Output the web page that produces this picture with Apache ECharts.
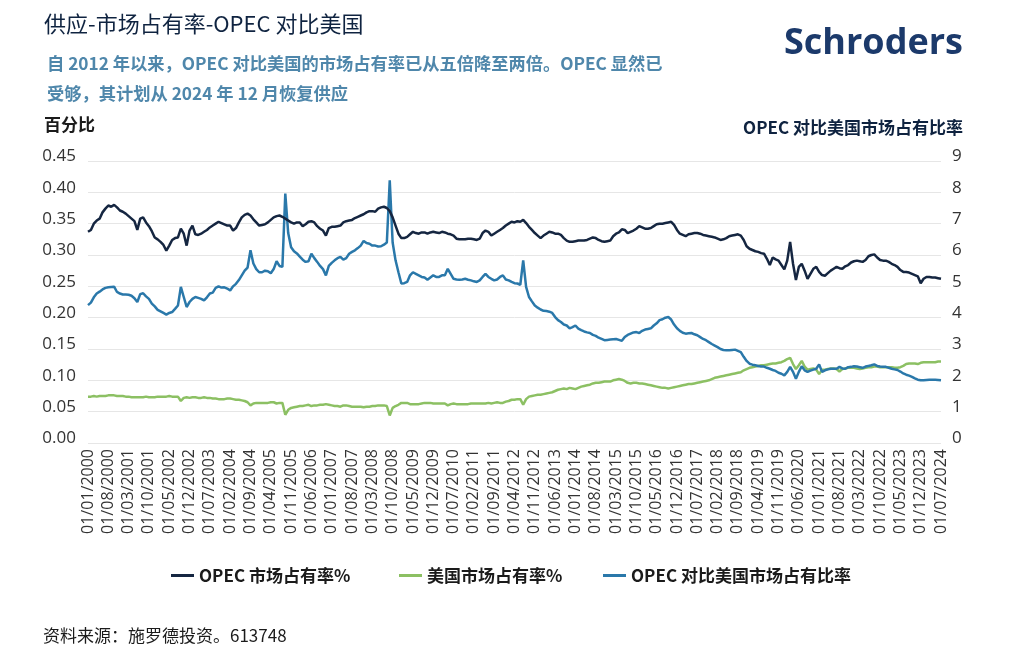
<!DOCTYPE html>
<html><head><meta charset="utf-8">
<script src="https://cdn.jsdelivr.net/npm/echarts@6/dist/echarts.min.js"></script>
<style>html,body{margin:0;padding:0;background:#fff}#c{width:1009px;height:659px}</style>
</head><body><div id="c"></div>
<script>
// Monthly data, 01/2000 .. 07/2024
const opecShare = [
0.337,0.340,0.350,0.355,0.358,0.368,0.374,0.379,0.377,0.380,0.376,0.371,
0.369,0.366,0.362,0.358,0.354,0.340,0.358,0.360,0.352,0.346,0.338,0.328,
0.325,0.321,0.316,0.307,0.315,0.324,0.327,0.328,0.342,0.334,0.315,0.339,
0.347,0.333,0.332,0.334,0.337,0.340,0.344,0.347,0.350,0.353,0.351,0.349,
0.347,0.347,0.339,0.343,0.352,0.360,0.364,0.366,0.363,0.357,0.352,0.347,
0.348,0.349,0.352,0.356,0.360,0.362,0.363,0.361,0.358,0.355,0.352,0.350,
0.352,0.352,0.346,0.349,0.353,0.354,0.352,0.346,0.342,0.339,0.331,0.343,
0.345,0.345,0.346,0.347,0.352,0.354,0.355,0.356,0.359,0.361,0.363,0.365,
0.368,0.370,0.370,0.369,0.374,0.376,0.377,0.375,0.370,0.360,0.347,0.334,
0.327,0.327,0.329,0.333,0.337,0.335,0.334,0.336,0.336,0.334,0.336,0.337,
0.336,0.335,0.337,0.336,0.334,0.333,0.331,0.326,0.325,0.325,0.325,0.326,
0.326,0.325,0.324,0.326,0.335,0.339,0.337,0.331,0.334,0.337,0.340,0.343,
0.347,0.350,0.353,0.352,0.354,0.353,0.356,0.351,0.345,0.340,0.335,0.331,
0.327,0.331,0.334,0.337,0.336,0.334,0.334,0.332,0.327,0.323,0.321,0.321,
0.322,0.323,0.323,0.323,0.324,0.326,0.328,0.327,0.324,0.322,0.321,0.322,
0.323,0.330,0.334,0.336,0.341,0.340,0.335,0.337,0.339,0.342,0.346,0.344,
0.342,0.342,0.343,0.346,0.349,0.350,0.350,0.351,0.352,0.353,0.348,0.340,
0.334,0.332,0.330,0.333,0.334,0.335,0.335,0.334,0.332,0.331,0.330,0.329,
0.328,0.326,0.324,0.325,0.327,0.330,0.331,0.332,0.333,0.331,0.324,0.314,
0.310,0.308,0.306,0.305,0.303,0.302,0.294,0.284,0.296,0.293,0.291,0.284,
0.277,0.291,0.321,0.286,0.260,0.281,0.286,0.275,0.262,0.270,0.278,0.281,
0.273,0.268,0.267,0.271,0.275,0.278,0.281,0.279,0.278,0.282,0.284,0.288,
0.290,0.291,0.290,0.289,0.292,0.298,0.300,0.301,0.296,0.292,0.291,0.291,
0.289,0.286,0.284,0.281,0.276,0.273,0.273,0.272,0.270,0.268,0.266,0.255,
0.262,0.265,0.265,0.264,0.264,0.263,0.262
];
const usShare = [
0.074,0.074,0.075,0.074,0.075,0.075,0.075,0.076,0.076,0.076,0.075,0.075,
0.075,0.074,0.074,0.073,0.073,0.073,0.073,0.073,0.074,0.073,0.073,0.073,
0.074,0.074,0.074,0.074,0.075,0.074,0.074,0.074,0.067,0.072,0.073,0.072,
0.073,0.073,0.072,0.072,0.073,0.072,0.072,0.071,0.071,0.070,0.070,0.070,
0.071,0.071,0.070,0.069,0.069,0.068,0.067,0.065,0.060,0.063,0.064,0.064,
0.064,0.064,0.064,0.065,0.065,0.063,0.064,0.064,0.045,0.053,0.056,0.057,
0.058,0.059,0.059,0.060,0.061,0.059,0.060,0.060,0.061,0.061,0.062,0.061,
0.060,0.059,0.059,0.058,0.060,0.060,0.059,0.058,0.058,0.058,0.058,0.057,
0.058,0.058,0.059,0.059,0.060,0.060,0.060,0.059,0.044,0.056,0.059,0.061,
0.064,0.064,0.064,0.062,0.062,0.062,0.062,0.063,0.064,0.064,0.064,0.063,
0.063,0.063,0.063,0.063,0.060,0.062,0.063,0.062,0.062,0.062,0.062,0.062,
0.063,0.063,0.063,0.063,0.063,0.063,0.064,0.063,0.064,0.065,0.064,0.064,
0.066,0.067,0.069,0.069,0.070,0.070,0.061,0.070,0.074,0.075,0.076,0.077,
0.077,0.078,0.079,0.080,0.081,0.083,0.085,0.086,0.087,0.086,0.088,0.087,
0.086,0.088,0.090,0.091,0.092,0.093,0.095,0.096,0.096,0.097,0.098,0.098,
0.098,0.100,0.101,0.102,0.101,0.099,0.096,0.095,0.096,0.096,0.095,0.095,
0.094,0.093,0.092,0.091,0.090,0.089,0.088,0.088,0.087,0.088,0.089,0.090,
0.091,0.092,0.093,0.094,0.094,0.095,0.096,0.097,0.098,0.099,0.100,0.102,
0.104,0.105,0.106,0.107,0.108,0.109,0.110,0.111,0.112,0.113,0.116,0.118,
0.120,0.121,0.122,0.123,0.124,0.124,0.125,0.126,0.127,0.127,0.128,0.129,
0.131,0.134,0.136,0.126,0.118,0.124,0.131,0.122,0.117,0.118,0.119,0.117,
0.110,0.117,0.117,0.118,0.119,0.119,0.118,0.114,0.118,0.119,0.120,0.120,
0.120,0.119,0.118,0.119,0.120,0.121,0.121,0.122,0.122,0.121,0.121,0.121,
0.121,0.121,0.120,0.120,0.121,0.123,0.126,0.127,0.127,0.127,0.126,0.128,
0.129,0.129,0.129,0.129,0.129,0.130,0.130
];
const opecVsUsRatio = [
4.40,4.48,4.65,4.77,4.83,4.90,4.95,4.97,4.98,4.99,4.82,4.77,
4.74,4.74,4.73,4.70,4.62,4.50,4.75,4.78,4.68,4.60,4.45,4.36,
4.25,4.20,4.15,4.10,4.15,4.18,4.28,4.39,4.98,4.66,4.34,4.50,
4.60,4.66,4.63,4.60,4.55,4.65,4.77,4.80,4.95,5.00,4.96,4.97,
4.93,4.87,5.00,5.08,5.20,5.35,5.50,5.60,6.15,5.73,5.55,5.45,
5.45,5.50,5.48,5.42,5.55,5.80,5.65,5.62,7.96,6.70,6.25,6.12,
6.05,5.95,5.85,5.78,5.80,6.04,5.90,5.78,5.65,5.55,5.35,5.65,
5.75,5.83,5.90,5.94,5.85,5.90,6.04,6.10,6.15,6.22,6.30,6.45,
6.38,6.36,6.30,6.30,6.27,6.28,6.33,6.40,8.38,6.40,5.83,5.45,
5.09,5.10,5.14,5.35,5.45,5.40,5.35,5.30,5.28,5.21,5.28,5.35,
5.30,5.30,5.35,5.35,5.56,5.40,5.24,5.22,5.21,5.22,5.24,5.21,
5.19,5.16,5.14,5.19,5.30,5.40,5.30,5.24,5.19,5.22,5.30,5.35,
5.22,5.19,5.14,5.10,5.09,5.05,5.83,4.98,4.66,4.52,4.39,4.32,
4.26,4.22,4.21,4.19,4.15,4.02,3.92,3.86,3.78,3.75,3.66,3.70,
3.75,3.65,3.60,3.56,3.53,3.51,3.45,3.42,3.36,3.32,3.28,3.29,
3.30,3.31,3.32,3.29,3.26,3.38,3.45,3.49,3.53,3.54,3.51,3.58,
3.62,3.64,3.66,3.75,3.82,3.92,3.95,4.00,4.02,3.94,3.78,3.66,
3.58,3.52,3.49,3.50,3.51,3.47,3.44,3.38,3.32,3.28,3.22,3.16,
3.11,3.06,3.00,2.97,2.96,2.96,2.97,2.98,2.94,2.90,2.75,2.62,
2.53,2.50,2.48,2.46,2.44,2.44,2.40,2.37,2.33,2.30,2.24,2.21,
2.16,2.27,2.43,2.27,2.05,2.27,2.45,2.32,2.27,2.31,2.34,2.37,
2.51,2.27,2.32,2.35,2.37,2.37,2.37,2.43,2.38,2.37,2.42,2.43,
2.45,2.44,2.42,2.40,2.44,2.46,2.48,2.51,2.46,2.44,2.43,2.43,
2.40,2.37,2.35,2.33,2.28,2.22,2.18,2.15,2.11,2.06,2.02,2.00,
2.00,2.01,2.02,2.02,2.02,2.01,2.00
];
// Category labels: first day of each month, 01/2000 .. 07/2024
const months = [];
for (let y = 2000; y <= 2024; y++) {
  for (let m = 1; m <= 12; m++) {
    if (y === 2024 && m > 7) break;
    months.push('01/' + String(m).padStart(2,'0') + '/' + y);
  }
}
const seriesNames = ['OPEC 市场占有率%', '美国市场占有率%', 'OPEC 对比美国市场占有比率'];
const colors = ['#152641', '#8cc063', '#2a78aa'];
const CJK = '"Noto Sans CJK SC", "Noto Sans", sans-serif';
const LAT = '"Open Sans", "Noto Sans", sans-serif';

const chart = echarts.init(document.getElementById('c'), null, {renderer: 'canvas'});
const legendBase = {
  top: 567, padding: 0, icon: 'rect', itemWidth: 23, itemHeight: 3, itemGap: 8,
  textStyle: {fontFamily: CJK, fontSize: 17, fontWeight: 'bold', color: '#1b1b1b'}
};
chart.setOption({
  backgroundColor: '#fff',
  animation: false,
  color: colors,
  title: [
    {text: '供应-市场占有率-OPEC 对比美国', left: 44, top: 13, padding: 0,
     textStyle: {fontFamily: CJK, fontSize: 22, fontWeight: 'normal', color: '#0f2340'}},
    {text: '自 2012 年以来，OPEC 对比美国的市场占有率已从五倍降至两倍。OPEC 显然已\n受够，其计划从 2024 年 12 月恢复供应', left: 47, top: 48, padding: 0,
     textStyle: {fontFamily: CJK, fontSize: 17.25, fontWeight: 'bold', color: '#4f87ab', lineHeight: 30}}
  ],
  graphic: [
    {type: 'text', left: 784, top: 26, style: {text: 'Schroders', fontFamily: LAT, fontSize: 36, fontWeight: 'bold', fill: '#1c3a6b'}},
    {type: 'text', left: 44, top: 116, style: {text: '百分比', fontFamily: CJK, fontSize: 17, fontWeight: 'bold', fill: '#1b1b1b'}},
    {type: 'text', right: 46, top: 119, style: {text: 'OPEC 对比美国市场占有比率', fontFamily: CJK, fontSize: 17, fontWeight: 'bold', fill: '#0f2340'}},
    {type: 'text', left: 43, top: 627, style: {text: '资料来源：施罗德投资。613748', fontFamily: CJK, fontSize: 17, fill: '#1b1b1b'}}
  ],
  legend: [
    Object.assign({}, legendBase, {left: 171, data: [seriesNames[0]]}),
    Object.assign({}, legendBase, {left: 399, data: [seriesNames[1]]}),
    Object.assign({}, legendBase, {left: 603, data: [seriesNames[2]]})
  ],
  grid: {left: 88, right: 68, top: 161, bottom: 216, containLabel: false},
  xAxis: {
    type: 'category', data: months, boundaryGap: false,
    axisLine: {show: false}, axisTick: {show: false},
    axisLabel: {interval: 6, rotate: 90, fontSize: 16, color: '#333', margin: 6, fontFamily: LAT},
    splitLine: {show: false}
  },
  yAxis: [
    {type: 'value', min: 0, max: 0.45, interval: 0.05,
     axisLine: {show: false}, axisTick: {show: false},
     axisLabel: {formatter: v => v.toFixed(2), fontSize: 17, color: '#333', margin: 12, fontFamily: LAT, verticalAlign: 'bottom', lineHeight: 9},
     splitLine: {lineStyle: {color: '#e6e6e6', width: 1}}},
    {type: 'value', min: 0, max: 9, interval: 1,
     axisLine: {show: false}, axisTick: {show: false},
     axisLabel: {fontSize: 17, color: '#333', margin: 11, fontFamily: LAT, verticalAlign: 'bottom', lineHeight: 9},
     splitLine: {show: false}}
  ],
  series: [
    {name: seriesNames[0], type: 'line', yAxisIndex: 0, data: opecShare, showSymbol: false, lineStyle: {width: 2.5, color: colors[0]}, itemStyle: {color: colors[0]}, z: 3},
    {name: seriesNames[1], type: 'line', yAxisIndex: 0, data: usShare, showSymbol: false, lineStyle: {width: 2.5, color: colors[1]}, itemStyle: {color: colors[1]}, z: 2},
    {name: seriesNames[2], type: 'line', yAxisIndex: 1, data: opecVsUsRatio, showSymbol: false, lineStyle: {width: 2.5, color: colors[2]}, itemStyle: {color: colors[2]}, z: 2}
  ]
});
</script></body></html>
